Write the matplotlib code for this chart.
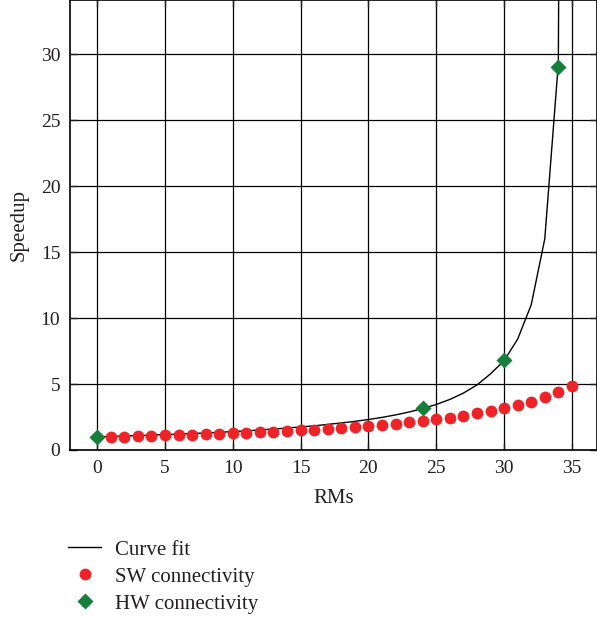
import matplotlib
matplotlib.use('Agg')
import matplotlib.pyplot as plt
from matplotlib.lines import Line2D

plt.rcParams['font.family'] = ['Liberation Serif', 'DejaVu Serif']
text_col = '#231f20'

# curve fit values
fit_x = [0, 1, 2, 3, 4, 5, 6, 7, 8, 9, 10, 11, 12, 13, 14, 15, 16, 17, 18, 19,
         20, 21, 22, 23, 24, 25, 26, 27, 28, 29, 30, 31, 32, 33, 34, 34.05]
fit_y = [1.0, 1.03, 1.06, 1.09, 1.13, 1.17, 1.2, 1.25, 1.29, 1.34, 1.4, 1.45,
         1.52, 1.59, 1.66, 1.75, 1.83, 1.94, 2.05, 2.17, 2.31, 2.47, 2.66, 2.88,
         3.14, 3.45, 3.83, 4.31, 4.93, 5.77, 6.77, 8.4, 11.0, 16.0, 29.3, 40.0]

# SW connectivity
sw_x = list(range(1, 36))
sw_y = [1.0, 1.02, 1.05, 1.07, 1.1, 1.12, 1.15, 1.18, 1.22, 1.26, 1.3, 1.34,
        1.39, 1.44, 1.5, 1.55, 1.62, 1.68, 1.75, 1.83, 1.91, 2.0, 2.1, 2.21,
        2.33, 2.46, 2.6, 2.77, 2.95, 3.15, 3.4, 3.65, 4.0, 4.37, 4.88]

# HW connectivity
hw_x = [0, 24, 30, 34]
hw_y = [1.0, 3.15, 6.82, 29.0]

red = '#ee2328'
green = '#14803c'

fig = plt.figure(figsize=(5.97, 6.17), dpi=100)
ax = fig.add_axes([70 / 597, 1 - 450 / 617, 1 - 70 / 597, 450 / 617])

ax.plot(fit_x, fit_y, color='black', lw=1.0, zorder=3)
ax.plot(sw_x, sw_y, 'o', color=red, ms=8.5, mec='none', zorder=4)
ax.plot(hw_x, hw_y, 'D', color=green, ms=8.5, mec='none', zorder=5)

ax.set_xlim(-2, 36.85)
ax.set_ylim(0, 34.1)
ax.set_xticks(range(0, 36, 5))
ax.set_yticks(range(0, 31, 5))
ax.grid(True, color='black', lw=0.9)
ax.set_axisbelow(True)
ax.tick_params(direction='in', length=5, width=1, top=True, right=True,
               labelsize=14, colors=text_col, pad=7)
for s in ax.spines.values():
    s.set_color('black')
    s.set_linewidth(1.2)

ax.set_xlabel('RMs', fontsize=15, color=text_col, labelpad=9)
ax.set_ylabel('Speedup', fontsize=15, color=text_col, labelpad=9)

handles = [Line2D([], [], color='black', lw=1.0),
           Line2D([], [], marker='o', ls='none', color=red, ms=8.5, mec='none'),
           Line2D([], [], marker='D', ls='none', color=green, ms=8.5, mec='none')]
labels = ['Curve fit', 'SW connectivity', 'HW connectivity']
leg = fig.legend(handles, labels, loc='upper left',
                 bbox_to_anchor=(68 / 597, 1 - 540 / 617), frameon=False,
                 fontsize=15, handlelength=1.6, handletextpad=0.65,
                 labelspacing=0.36, borderpad=0, borderaxespad=0)
for t in leg.get_texts():
    t.set_color(text_col)

fig.savefig('out.png', dpi=100)
